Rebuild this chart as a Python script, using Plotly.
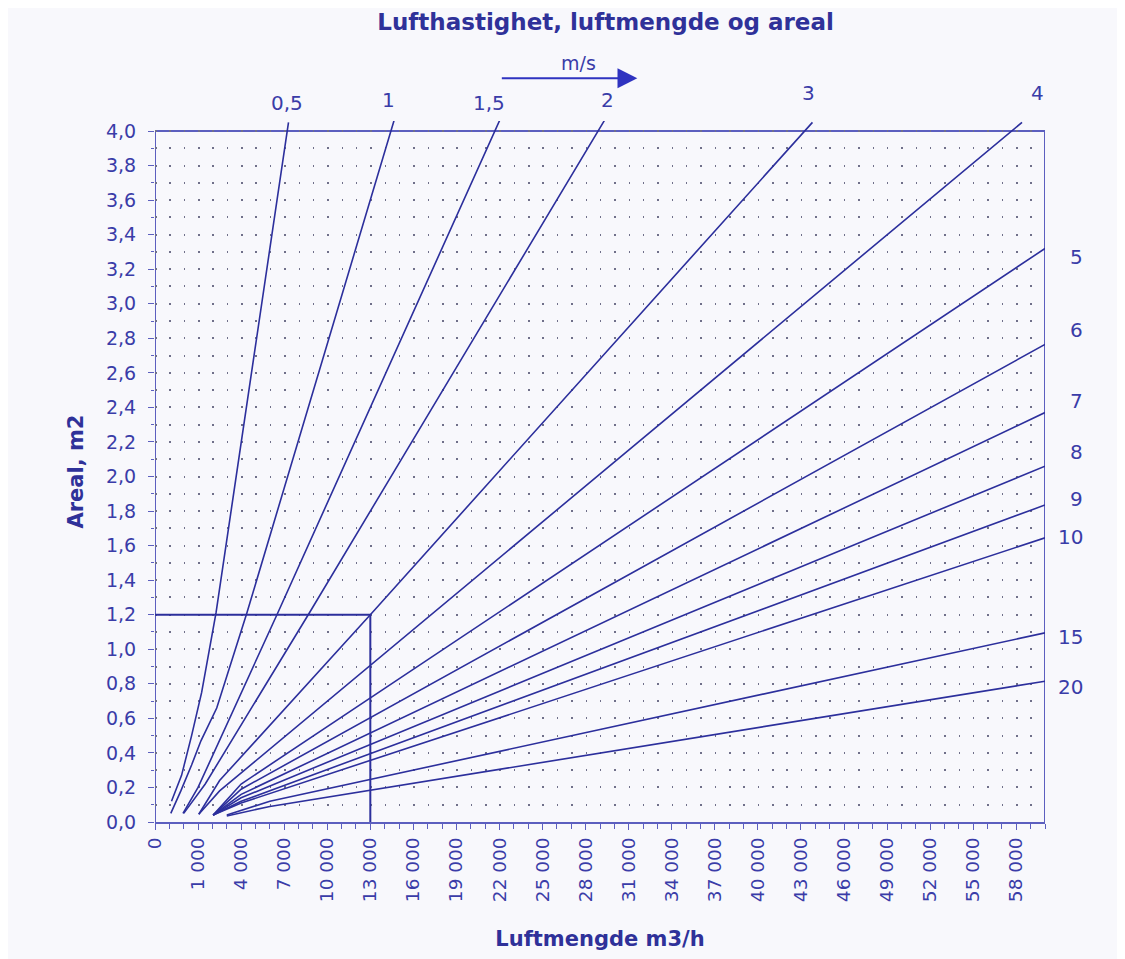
import plotly.graph_objects as go

# Lufthastighet (m/s) -> punkter lest av diagrammet (luftmengde m3/h, areal m2)
velocities = [0.5, 1, 1.5, 2, 3, 4, 5, 6, 7, 8, 9, 10, 15, 20]

flow_05 = [-850, -150, 550, 1250, 2250, 7300]
area_05 = [0.12, 0.27, 0.50, 0.75, 1.21, 4.05]
flow_1 = [-900, -200, 550, 1200, 2300, 4400, 14650]
area_1 = [0.05, 0.18, 0.33, 0.47, 0.66, 1.21, 4.06]
flow_15 = [-50, 1000, 6550, 22000]
area_15 = [0.05, 0.20, 1.21, 4.06]
flow_2 = [0, 1500, 8750, 29300]
area_2 = [0.05, 0.22, 1.21, 4.06]
flow_3 = [1050, 2500, 13000, 43800]
area_3 = [0.045, 0.24, 1.20, 4.05]
flow_4 = [1050, 2500, 58400]
area_4 = [0.045, 0.18, 4.05]
flow_5 = [2050, 4000, 60000]
area_5 = [0.04, 0.22, 3.32]
flow_6 = [2050, 4000, 60000]
area_6 = [0.04, 0.19, 2.765]
flow_7 = [2050, 4000, 60000]
area_7 = [0.04, 0.16, 2.37]
flow_8 = [2050, 4000, 60000]
area_8 = [0.04, 0.14, 2.06]
flow_9 = [2050, 4000, 60000]
area_9 = [0.04, 0.12, 1.835]
flow_10 = [2050, 4000, 60000]
area_10 = [0.04, 0.11, 1.645]
flow_15ms = [3000, 6000, 60000]
area_15ms = [0.04, 0.12, 1.095]
flow_20 = [3000, 6000, 60000]
area_20 = [0.035, 0.09, 0.815]

curves = {
    0.5: (flow_05, area_05),
    1: (flow_1, area_1),
    1.5: (flow_15, area_15),
    2: (flow_2, area_2),
    3: (flow_3, area_3),
    4: (flow_4, area_4),
    5: (flow_5, area_5),
    6: (flow_6, area_6),
    7: (flow_7, area_7),
    8: (flow_8, area_8),
    9: (flow_9, area_9),
    10: (flow_10, area_10),
    15: (flow_15ms, area_15ms),
    20: (flow_20, area_20),
}

# eksempel: 13 000 m3/h og 1,2 m2
example_flow = 13000
example_area = 1.2

# aksen i originalen er en kategoriakse: "0" står tre steg før 1 000
x_start = -2000
x_end = 60000
y_top = 4.0
x_tick_values = [x_start] + list(range(1000, 58001, 3000))
x_tick_text = ["0"] + [f"{v:,}".replace(",", " ") for v in range(1000, 58001, 3000)]
y_tick_values = [round(i * 0.2, 1) for i in range(21)]

LINE = "#2c2f9c"
AXIS = "#5c5fbf"
TEXT = "#3a3ca8"
DARK = "#2f3199"
BG = "#f8f8fc"
FONT = "DejaVu Sans, Liberation Sans, Arial, sans-serif"


def fmt_speed(v):
    return str(v).replace(".", ",")


fig = go.Figure()

for v in velocities:
    q, a = curves[v]
    fig.add_trace(go.Scatter(
        x=q, y=a, mode="lines",
        line=dict(color=LINE, width=1.6),
        hoverinfo="skip",
        showlegend=False,
    ))

fig.add_trace(go.Scatter(
    x=[x_start, example_flow, example_flow],
    y=[example_area, example_area, 0],
    mode="lines",
    line=dict(color=LINE, width=2),
    hoverinfo="skip",
    showlegend=False,
))

annotations = []
# etiketter over diagrammet (y i papirkoordinater)
top_labels = {0.5: (7200, 1.026), 1: (14300, 1.030), 1.5: (21300, 1.026),
              2: (29500, 1.030), 3: (43500, 1.040), 4: (59500, 1.040)}
for v, (qx, yp) in top_labels.items():
    annotations.append(dict(
        x=qx, xref="x", y=yp, yref="paper", yanchor="middle", text=fmt_speed(v),
        showarrow=False, font=dict(size=20, color=TEXT, family=FONT),
    ))

# etiketter til høyre
right_labels = {5: 3.27, 6: 2.85, 7: 2.44, 8: 2.14, 9: 1.87, 10: 1.65, 15: 1.07, 20: 0.78}
for v, ya in right_labels.items():
    annotations.append(dict(
        x=1.045, xref="paper", y=ya, yref="y", yanchor="middle", text=fmt_speed(v),
        showarrow=False, font=dict(size=20, color=TEXT, family=FONT),
    ))

# pil med m/s
annotations.append(dict(
    x=31600, xref="x", y=1.061, yref="paper", text="",
    showarrow=True, ax=-137, ay=0, axref="pixel", ayref="pixel",
    arrowhead=2, arrowsize=1.8, arrowwidth=2.2, arrowcolor="#2f33c0",
))
annotations.append(dict(
    x=27500, xref="x", y=1.0825, yref="paper", yanchor="middle", text="m/s",
    showarrow=False, font=dict(size=19, color=TEXT, family=FONT),
))

# rammen rundt plottet går ved 4,0 - kurvene stikker litt over
border = dict(type="line", xref="x", yref="y", line=dict(color=AXIS, width=2), layer="below")
shapes = [
    dict(border, x0=x_start, x1=x_start, y0=0, y1=y_top),
    dict(border, x0=x_start, x1=x_end, y0=y_top, y1=y_top),
    dict(border, x0=x_end, x1=x_end, y0=0, y1=y_top),
]

fig.update_layout(
    width=1117, height=951,
    margin=dict(l=147, r=80, t=113, b=135),
    paper_bgcolor=BG, plot_bgcolor=BG,
    separators=", ",
    font=dict(family=FONT, color=TEXT, size=16),
    title=dict(
        text="<b>Lufthastighet, luftmengde og areal</b>",
        x=0.535, xanchor="center", y=0.985, yanchor="middle",
        font=dict(size=23, color=DARK, family=FONT),
    ),
    annotations=annotations,
    shapes=shapes,
)

fig.update_xaxes(
    range=[x_start, x_end],
    tickmode="array", tickvals=x_tick_values, ticktext=x_tick_text,
    tickangle=-90, tickfont=dict(size=18.5, color=TEXT),
    ticks="outside", ticklen=6, tickcolor=AXIS,
    minor=dict(tickmode="linear", tick0=x_start, dtick=1000,
               ticks="outside", ticklen=5, tickcolor=AXIS, showgrid=False),
    showline=True, linecolor=AXIS, linewidth=2, mirror=False,
    showgrid=False, zeroline=False,
    title=dict(text="<b>Luftmengde m3/h</b>", font=dict(size=21, color=DARK),
               standoff=30),
)

fig.update_yaxes(
    range=[0, 4.058],
    tickmode="array", tickvals=y_tick_values, tickformat=".1f",
    tickfont=dict(size=19, color=TEXT), ticklabelstandoff=8,
    ticks="outside", ticklen=6, tickcolor=AXIS,
    minor=dict(tickmode="linear", tick0=0, dtick=0.1, ticks="outside",
               ticklen=3, tickcolor=AXIS, showgrid=True,
               gridcolor="#70708a", griddash="1.5px,12.85px", gridwidth=1.5),
    showgrid=True, gridcolor="#70708a", griddash="1.5px,12.85px", gridwidth=1.5,
    showline=False, zeroline=False,
    title=dict(text="<b>Areal, m2</b>", font=dict(size=21, color=DARK),
               standoff=16),
)

fig.write_html("out.html")
